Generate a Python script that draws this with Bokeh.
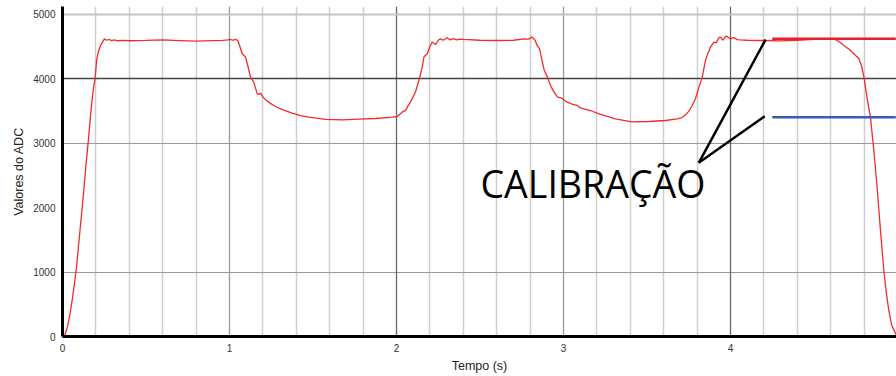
from bokeh.plotting import figure
from bokeh.models import Range1d, FixedTicker, Grid, Label
from bokeh.embed import file_html
from bokeh.resources import INLINE

# ---- data ----
t = [0.0, 0.015, 0.03, 0.045, 0.06, 0.083, 0.103, 0.123, 0.14, 0.155, 0.17, 0.185, 0.195, 0.205, 0.215, 0.228, 0.24, 0.251,
     0.265, 0.28, 0.295, 0.31, 0.33, 0.36, 0.4, 0.5, 0.6, 0.7, 0.8, 0.9, 0.96, 0.99, 1.005, 1.02, 1.035, 1.05,
     1.065, 1.076, 1.096, 1.11, 1.126, 1.145, 1.166, 1.176, 1.186, 1.2, 1.216, 1.245, 1.275, 1.32, 1.375, 1.425,
     1.475, 1.575, 1.675, 1.774, 1.874, 1.974, 2.004, 2.034, 2.054, 2.074, 2.094, 2.114, 2.134, 2.144, 2.154,
     2.164, 2.184, 2.2, 2.214, 2.234, 2.25, 2.263, 2.28, 2.304, 2.32, 2.34, 2.36, 2.38, 2.403, 2.5, 2.6, 2.7,
     2.762, 2.79, 2.812, 2.83, 2.842, 2.857, 2.87, 2.885, 2.905, 2.925, 2.945, 2.965, 2.99, 3.022, 3.05, 3.082,
     3.102, 3.162, 3.212, 3.311, 3.411, 3.511, 3.611, 3.681, 3.71, 3.731, 3.751, 3.771, 3.791, 3.811, 3.831,
     3.85, 3.865, 3.88, 3.9, 3.915, 3.93, 3.94, 3.955, 3.97, 3.98, 4.0, 4.02, 4.04, 4.06, 4.1, 4.2, 4.3, 4.4,
     4.5, 4.6, 4.619, 4.65, 4.679, 4.71, 4.739, 4.769, 4.785, 4.799, 4.818, 4.838, 4.858, 4.878, 4.898, 4.918,
     4.933, 4.948, 4.965, 4.988, 4.995]
adc = [0, 30, 150, 350, 600, 1050, 1600, 2140, 2650, 3050, 3500, 3850, 4000, 4300, 4430, 4520, 4570, 4622,
       4600, 4612, 4595, 4605, 4592, 4598, 4592, 4598, 4605, 4595, 4585, 4595, 4598, 4605, 4615, 4600, 4612, 4596,
       4480, 4390, 4340, 4200, 4027, 3950, 3768, 3760, 3779, 3720, 3675, 3620, 3571, 3520, 3468, 3430,
       3406, 3370, 3365, 3375, 3385, 3406, 3416, 3483, 3510, 3600, 3690, 3800, 3975, 4080, 4182,
       4340, 4390, 4500, 4572, 4534, 4600, 4622, 4600, 4638, 4605, 4625, 4605, 4618, 4612, 4600, 4596, 4600,
       4622, 4618, 4648, 4600, 4519, 4467, 4300, 4130, 4020, 3880, 3790, 3716, 3700, 3638, 3610, 3587,
       3550, 3509, 3458, 3380, 3333, 3338, 3354, 3380, 3400, 3442, 3500, 3587, 3700, 3872, 4027,
       4286, 4400, 4493, 4572, 4560, 4640, 4648, 4600, 4660, 4658, 4620, 4640, 4610, 4605, 4600, 4596, 4590, 4600,
       4615, 4622, 4622, 4580, 4519, 4460, 4390, 4312, 4200, 4027, 3700, 3406, 2900, 2318, 1650, 1025,
       680, 404, 180, 47, 20]

x_ticks = [0, 1, 2, 3, 4]
y_ticks = [0, 1000, 2000, 3000, 4000, 5000]

calib_high = 4622
calib_low = 3406
calib_x = [4.25, 4.99]
pointer_vertex = (3.81, 2697)
pointer_ends = [(4.21, 4610), (4.205, 3421)]
annotation_text = "CALIBRAÇÃO"

p = figure(width=896, height=376, output_backend="svg", toolbar_location=None,
           x_range=Range1d(0, 4.994), y_range=Range1d(0, 5124),
           min_border_left=62, min_border_right=0, min_border_top=6, min_border_bottom=40)
p.outline_line_color = None
p.background_fill_color = "white"

# grids
p.xgrid.ticker = FixedTicker(ticks=[round(0.2 * i, 1) for i in range(25) if i % 5 != 0])
p.xgrid.grid_line_color = "#cfcfcf"
p.xgrid.grid_line_width = 1.5
p.ygrid.ticker = FixedTicker(ticks=[1000, 3000])
p.ygrid.grid_line_color = "#9a9a9a"
p.ygrid.grid_line_width = 1.2
p.add_layout(Grid(dimension=0, ticker=FixedTicker(ticks=[1, 3]), grid_line_color="#9a9a9a", grid_line_width=1.3))
p.add_layout(Grid(dimension=0, ticker=FixedTicker(ticks=[2, 4]), grid_line_color="#666666", grid_line_width=1.3))
p.add_layout(Grid(dimension=1, ticker=FixedTicker(ticks=[4000]), grid_line_color="#444444", grid_line_width=1.3))
p.add_layout(Grid(dimension=1, ticker=FixedTicker(ticks=[5000]), grid_line_color="#c4c4c4", grid_line_width=2))

# axes
for ax in (p.xaxis, p.yaxis):
    ax.axis_line_width = 3
    ax.axis_line_color = "black"
    ax.major_tick_line_color = None
    ax.minor_tick_line_color = None
    ax.major_label_text_font = "Liberation Sans"
    ax.major_label_text_font_size = "10px"
    ax.major_label_text_color = "#333333"
    ax.axis_label_text_font = "Liberation Sans"
    ax.axis_label_text_font_size = "12.5px"
    ax.axis_label_text_font_style = "normal"
    ax.axis_label_text_color = "#222222"
p.xaxis.ticker = FixedTicker(ticks=x_ticks)
p.yaxis.ticker = FixedTicker(ticks=y_ticks)
p.xaxis.axis_label = "Tempo (s)"
p.yaxis.axis_label = "Valores do ADC"
p.xaxis.major_label_standoff = 1
p.yaxis.major_label_standoff = 1
p.xaxis.axis_label_standoff = 4
p.yaxis.axis_label_standoff = 4

p.line(t, adc, line_color="#f52a2a", line_width=1.3)

# calibration markers
p.line(calib_x, [calib_high, calib_high], line_color="#e8202a", line_width=2.5)
p.line(calib_x, [calib_low, calib_low], line_color="#3b5bb5", line_width=2.5)
for ex, ey in pointer_ends:
    p.line([pointer_vertex[0], ex], [pointer_vertex[1], ey], line_color="black", line_width=2.5)

p.add_layout(Label(x=pointer_vertex[0] + 0.04, y=pointer_vertex[1] - 320, text=annotation_text,
                   text_align="right", text_baseline="middle", text_font="Open Sans",
                   text_font_size="37.5px", text_color="black"))

open("out.html", "w").write(file_html(p, INLINE))
